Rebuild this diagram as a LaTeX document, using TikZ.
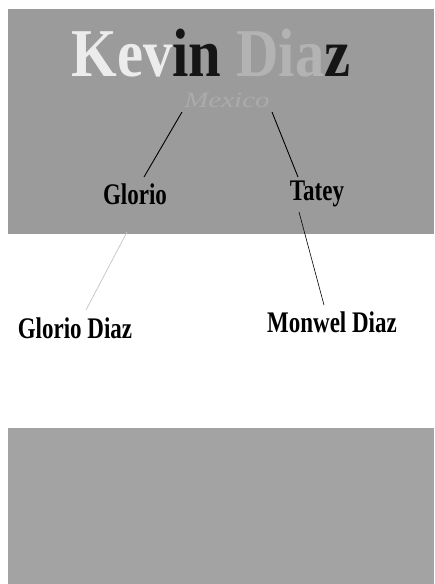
\documentclass[tikz,border=0pt]{standalone}
\usepackage{graphicx}
\usepackage{fontspec}
\setmainfont{Liberation Serif}
\usetikzlibrary{calc}
\definecolor{bgtop}{HTML}{9B9B9B}
\definecolor{bgbot}{HTML}{A3A3A3}
\definecolor{kevlight}{HTML}{ECECEC}
\definecolor{diagray}{HTML}{B3B3B3}
\definecolor{inkdark}{HTML}{151515}
\definecolor{mexgray}{HTML}{ABABAB}
\definecolor{thinline}{HTML}{C4C4C4}
\newcommand{\tallname}[1]{\scalebox{1}[1.3]{\bfseries #1}}
\tikzset{
  person/.style={font=\fontsize{23}{26}\selectfont, text=black, inner sep=0pt},
  link/.style={draw=black, line width=0.9pt},
}
\begin{document}
\begin{tikzpicture}[x=1pt,y=-1pt]
\useasboundingbox (0,0) rectangle (434,584);
\fill[white] (0,0) rectangle (434,584);
\fill[bgtop] (8,9) rectangle (434,234);
\fill[bgbot] (8,428) rectangle (434,584);
\node[inner sep=0pt, font=\fontsize{57}{64}\selectfont] (title) at (211,53)
  {\scalebox{1.03}[1.2]{\bfseries\textcolor{kevlight}{Kev}\textcolor{inkdark}{in} \textcolor{diagray}{Dia}\textcolor{inkdark}{z}}};
\node[inner sep=0pt, text=mexgray, font=\fontsize{20}{24}\selectfont\itshape] (mexico) at (227,100) {\scalebox{1.45}[1.1]{Mexico}};
\node[person] (glorio) at (135,194) {\tallname{Glorio}};
\node[person] (tatey) at (317,194) {\tallname{Tatey}};
\node[person] (gdiaz) at (75,328) {\tallname{Glorio Diaz}};
\node[person] (monwel) at (332,322) {\tallname{Monwel Diaz}};
\draw[link] ($(mexico.center)+(-45,12)$) -- ($(glorio.center)+(9,-17)$);
\draw[link] ($(mexico.center)+(45,12)$) -- ($(tatey.center)+(-19,-17)$);
\draw[thinline, line width=0.7pt] ($(glorio.center)+(-8,38)$) -- ($(gdiaz.center)+(11,-18)$);
\draw[black, line width=0.6pt] ($(tatey.center)+(-18,18)$) -- ($(monwel.center)+(-8,-17)$);
\end{tikzpicture}
\end{document}
